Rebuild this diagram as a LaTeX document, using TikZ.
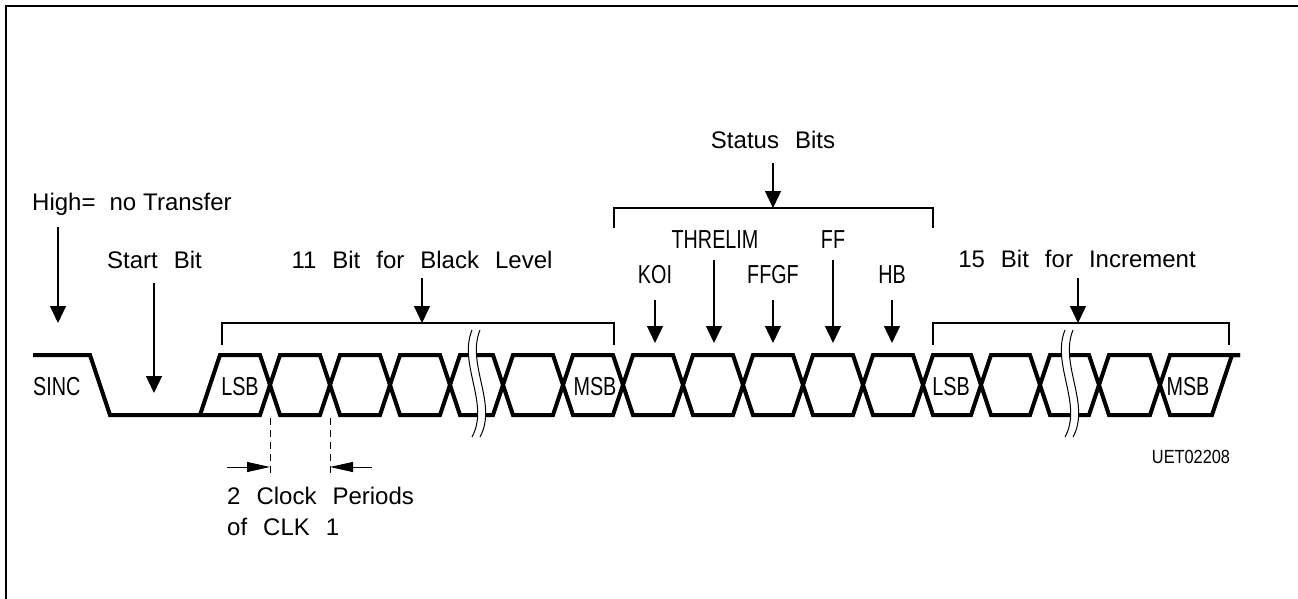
\documentclass[tikz,border=0pt]{standalone}
\usepackage{fontspec}
\setmainfont{Liberation Sans}
\newfontfamily\capsfont[FakeStretch=0.76]{Liberation Sans}
\newfontfamily\smallcapsfont[FakeStretch=0.86]{Liberation Sans}
\newcommand\mytxtfont{\fontsize{24}{28}\selectfont\spaceskip 16pt\relax}
\usetikzlibrary{arrows.meta}
\begin{document}
\begin{tikzpicture}[x=1pt,y=-1pt,
  sig/.style={line width=4pt, line join=miter},
  frm/.style={line width=1.5pt},
  brkt/.style={line width=1.3pt},
  arr/.style={line width=1.3pt, -{Triangle[length=17pt,width=16pt]}},
  dimarr/.style={line width=1pt, -{Triangle[length=23pt,width=10pt]}},
  dsh/.style={line width=1pt, dash pattern=on 7pt off 5pt},
  txt/.style={inner sep=0pt, font=\mytxtfont},
  ctxt/.style={inner sep=0pt, font=\fontsize{26}{30}\selectfont\capsfont},
  stxt/.style={inner sep=0pt, font=\fontsize{19}{22}\selectfont\smallcapsfont},
  breakmark/.pic={
    \fill[white] (-4,-54) .. controls (-18,-20) and (14,20) .. (-4,53)
      -- (4,53) .. controls (22,20) and (-10,-20) .. (4,-54) -- cycle;
    \draw[line width=1pt] (-4,-54) .. controls (-18,-20) and (14,20) .. (-4,53);
    \draw[line width=1pt] (4,-54) .. controls (-10,-20) and (22,20) .. (4,53);
  }]
\useasboundingbox (0,0) rectangle (1298,599);
% frame
\draw[frm] (6,599) -- (6,6) -- (1298,6);

% dashed reference lines and dimension arrows
\coordinate (d1a) at (270,418); \coordinate (d1b) at (270,473);
\coordinate (d2a) at (330,418); \coordinate (d2b) at (330,473);
\draw[dsh] (d1a) -- (d1b);
\draw[dsh] (d2a) -- (d2b);
\coordinate (m1s) at (227,467); \coordinate (m1e) at (270,467);
\coordinate (m2s) at (372,467); \coordinate (m2e) at (330,467);
\draw[dimarr] (m1s) -- (m1e);
\draw[dimarr] (m2s) -- (m2e);

% signal
\draw[sig] (33,355) -- (90,355) -- (110,415) -- (260,415) -- (280,355) -- (320,355)
  -- (340,415) -- (380,415) -- (400,355) -- (440,355) -- (460,415) -- (493,415)
  -- (513,355) -- (553,355) -- (573,415) -- (613,415) -- (633,355) -- (673,355)
  -- (693,415) -- (733,415) -- (753,355) -- (793,355) -- (813,415) -- (853,415)
  -- (873,355) -- (913,355) -- (933,415) -- (971,415) -- (991,355) -- (1030,355)
  -- (1050,415) -- (1089,415) -- (1109,355) -- (1150,355) -- (1170,415) -- (1212,415)
  -- (1232,355) -- (1240,355);
\draw[sig] (200,415) -- (220,355) -- (260,355) -- (280,415) -- (320,415) -- (340,355)
  -- (380,355) -- (400,415) -- (440,415) -- (460,355) -- (493,355) -- (513,415)
  -- (553,415) -- (573,355) -- (613,355) -- (633,415) -- (673,415) -- (693,355)
  -- (733,355) -- (753,415) -- (793,415) -- (813,355) -- (853,355) -- (873,415)
  -- (913,415) -- (933,355) -- (971,355) -- (991,415) -- (1030,415) -- (1050,355)
  -- (1089,355) -- (1109,415) -- (1150,415) -- (1170,355) -- (1240,355);

% breaks
\pic at (476,384) {breakmark};
\pic at (1069,384) {breakmark};

% signal labels
\node[ctxt, anchor=base west] (sinc) at (33,395) {SINC};
\node[ctxt, anchor=base] (lsb1) at (240,395) {LSB};
\node[ctxt, anchor=base] (msb1) at (595,395) {MSB};
\node[ctxt, anchor=base] (lsb2) at (951,395) {LSB};
\node[ctxt, anchor=base] (msb2) at (1188,395) {MSB};

% brackets
\coordinate (b1l) at (222,345); \coordinate (b1r) at (614,345);
\draw[brkt] (b1l) -- (222,323) -- (614,323) -- (b1r);
\coordinate (b2l) at (614,228); \coordinate (b2r) at (933,228);
\draw[brkt] (b2l) -- (614,208) -- (933,208) -- (b2r);
\coordinate (b3l) at (933,345); \coordinate (b3r) at (1229,345);
\draw[brkt] (b3l) -- (933,323) -- (1229,323) -- (b3r);

% top labels
\node[txt, anchor=base west] (high) at (32,210) {High=\kern14pt no\kern7pt Transfer};
\node[txt, anchor=base west] (start) at (107,268) {Start Bit};
\node[txt, anchor=base] (black) at (422,268) {11 Bit for Black Level};
\node[txt, anchor=base] (status) at (773,149) {Status Bits};
\node[txt, anchor=base] (incr) at (1077,267) {15 Bit for Increment};
\node[ctxt, anchor=base] (threlim) at (715,248) {THRELIM};
\node[ctxt, anchor=base] (ff) at (833,248) {FF};
\node[ctxt, anchor=base] (koi) at (655,283) {KOI};
\node[ctxt, anchor=base] (ffgf) at (773,283) {FFGF};
\node[ctxt, anchor=base] (hb) at (892,283) {HB};

% arrows
\coordinate (aHs) at (58,227); \coordinate (aHe) at (58,323);
\coordinate (aSs) at (154,283); \coordinate (aSe) at (154,393);
\coordinate (aBs) at (422,278); \coordinate (aBe) at (422,323);
\coordinate (aTs) at (773,163); \coordinate (aTe) at (773,208);
\coordinate (aIs) at (1078,278); \coordinate (aIe) at (1078,323);
\coordinate (aKs) at (655,300); \coordinate (aKe) at (655,343);
\coordinate (aRs) at (714,260); \coordinate (aRe) at (714,343);
\coordinate (aGs) at (773,300); \coordinate (aGe) at (773,343);
\coordinate (aFs) at (833,260); \coordinate (aFe) at (833,343);
\coordinate (aHBs) at (892,300); \coordinate (aHBe) at (892,343);
\draw[arr] (aHs) -- (aHe);
\draw[arr] (aSs) -- (aSe);
\draw[arr] (aBs) -- (aBe);
\draw[arr] (aTs) -- (aTe);
\draw[arr] (aIs) -- (aIe);
\draw[arr] (aKs) -- (aKe);
\draw[arr] (aRs) -- (aRe);
\draw[arr] (aGs) -- (aGe);
\draw[arr] (aFs) -- (aFe);
\draw[arr] (aHBs) -- (aHBe);

% bottom labels
\node[txt, anchor=base west] (clk1) at (227,504) {2 Clock Periods};
\node[txt, anchor=base west] (clk2) at (227,535) {of CLK 1};
\node[stxt, anchor=base] (uet) at (1191,463) {UET02208};
\end{tikzpicture}
\end{document}
